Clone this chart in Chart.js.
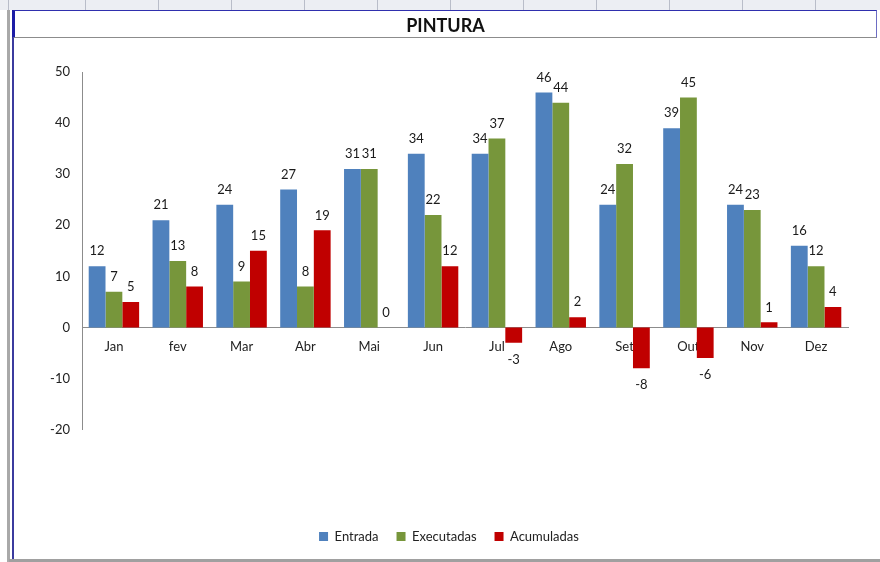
<!DOCTYPE html>
<html>
<head>
<meta charset="utf-8">
<title>PINTURA</title>
<script src="https://cdn.jsdelivr.net/npm/chart.js@4.4.1/dist/chart.umd.min.js"></script>
<style>
  html, body { margin: 0; padding: 0; background: #fff; }
  #frame { position: relative; width: 880px; height: 562px; overflow: hidden; font-family: Lato, "Open Sans", sans-serif; }
  #chart { position: absolute; left: 0; top: 0; }
  /* spreadsheet bits around the chart object */
  #topStrip { position: absolute; left: 0; top: 0; width: 880px; height: 10px; background-color: #eceef3;
    background-image: repeating-linear-gradient(90deg, transparent 0 72px, #b9bdc9 72px 73px);
    background-position: 13px 0; }
  #grayLeft { position: absolute; left: 7px; top: 10px; width: 3px; height: 552px; background: #a9a9a9; }
  #blueLeft { position: absolute; left: 12px; top: 10px; width: 2px; height: 549px; background: #3b3b9e; }
  #bottomBand { position: absolute; left: 9px; top: 559px; width: 871px; height: 3px; background: #a0a0a0; }
  #titleBox { position: absolute; left: 12px; top: 10px; width: 861px; height: 26px;
    border-top: 1px solid #2f2fae; border-right: 1px solid #6d6dc4; border-bottom: 1px solid #8c8c8c;
    border-left: 3px solid #1c1ca6; text-align: center; line-height: 28px;
    font-weight: bold; font-size: 18px; color: #111; }
</style>
</head>
<body>
<div id="frame">
  <canvas id="chart" width="880" height="562"></canvas>
  <div id="topStrip"></div>
  <div id="grayLeft"></div>
  <div id="blueLeft"></div>
  <div id="bottomBand"></div>
  <div id="titleBox">PINTURA</div>
</div>
<script>
// data
const months = ['Jan', 'fev', 'Mar', 'Abr', 'Mai', 'Jun', 'Jul', 'Ago', 'Set', 'Out', 'Nov', 'Dez'];
const entrada = [12, 21, 24, 27, 31, 34, 34, 46, 24, 39, 24, 16];
const executadas = [7, 13, 9, 8, 31, 22, 37, 44, 32, 45, 23, 12];
const acumuladas = [5, 8, 15, 19, 0, 12, -3, 2, -8, -6, 1, 4];
const yTicks = [-20, -10, 0, 10, 20, 30, 40, 50];

const FONT = 'Lato, "Open Sans", sans-serif';

// value above (or below, for negatives) each bar
const valueLabels = {
  id: 'valueLabels',
  afterDatasetsDraw(chart) {
    const ctx = chart.ctx;
    ctx.save();
    ctx.font = '13px ' + FONT;
    ctx.fillStyle = '#1a1a1a';
    ctx.textAlign = 'center';
    ctx.textBaseline = 'middle';
    chart.data.datasets.forEach((ds, i) => {
      chart.getDatasetMeta(i).data.forEach((bar, j) => {
        const v = ds.data[j];
        const y = v < 0 ? bar.y + 17 : bar.y - 15;
        ctx.fillText(String(v), bar.x, y);
      });
    });
    ctx.restore();
  }
};

Chart.defaults.font.family = FONT;
Chart.defaults.color = '#222';

new Chart(document.getElementById('chart'), {
  type: 'bar',
  data: {
    labels: months,
    datasets: [
      { label: 'Entrada', data: entrada, backgroundColor: '#4f81bd' },
      { label: 'Executadas', data: executadas, backgroundColor: '#77963b' },
      { label: 'Acumuladas', data: acumuladas, backgroundColor: '#c00000' }
    ]
  },
  options: {
    responsive: false,
    animation: false,
    layout: { padding: { left: 50, right: 32, top: 72, bottom: 9 } },
    datasets: { bar: { categoryPercentage: 0.79, barPercentage: 1 } },
    scales: {
      x: {
        position: { y: 0 },
        grid: { display: false, drawTicks: false },
        border: { display: true, color: '#8c8c8c', width: 1 },
        ticks: { padding: 12, font: { size: 13 }, color: '#222' }
      },
      y: {
        min: -20,
        max: 50,
        afterFit: (scale) => { scale.width = 32; },
        afterBuildTicks: (scale) => { scale.ticks = yTicks.map(v => ({ value: v })); },
        grid: { display: false, drawTicks: false },
        border: { display: true, color: '#8c8c8c', width: 1 },
        ticks: { padding: 12, font: { size: 13 }, color: '#222' }
      }
    },
    plugins: {
      tooltip: { enabled: false },
      legend: {
        position: 'bottom',
        // empty title only pushes the legend row down to the bottom of the frame
        title: { display: true, text: '', padding: { top: 68, bottom: 0 } },
        labels: { boxWidth: 9, boxHeight: 9, padding: 18, font: { size: 13 }, color: '#222' }
      }
    }
  },
  plugins: [valueLabels]
});
</script>
</body>
</html>
